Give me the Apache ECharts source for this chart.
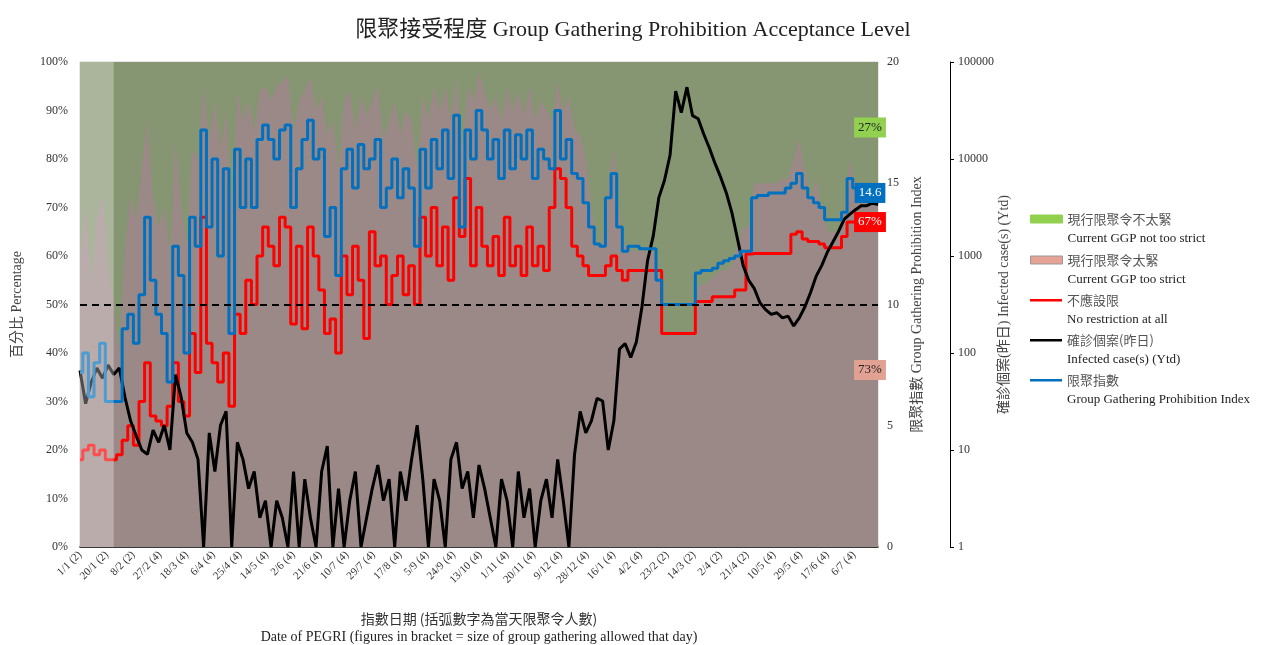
<!DOCTYPE html>
<html><head><meta charset="utf-8">
<script src="https://cdn.jsdelivr.net/npm/echarts@6.0.0/dist/echarts.min.js"></script>
<style>html,body{margin:0;padding:0;background:#fff}#c{width:1266px;height:645px}</style>
</head><body><div id="c"></div>
<script>
// ---------- text ----------
const titleText = '限聚接受程度 Group Gathering Prohibition Acceptance Level';
const xNameZh = '指數日期 (括弧數字為當天限聚令人數)';
const xNameEn = 'Date of PEGRI (figures in bracket = size of group gathering allowed that day)';
const yLeftName = '百分比 Percentage';
const yIndexName = '限聚指數 Group Gathering Prohibition Index';
const yCasesName = '確診個案(昨日) Infected case(s) (Ytd)';
const seriesZh = ['現行限聚令不太緊', '現行限聚令太緊', '不應設限', '確診個案(昨日)', '限聚指數'];
const seriesEn = ['Current GGP not too strict', 'Current GGP too strict', 'No restriction at all', 'Infected case(s) (Ytd)', 'Group Gathering Prohibition Index'];

// ---------- x axis (days since 1/1) ----------
const xTickLabels = ['1/1 (2)','20/1 (2)','8/2 (2)','27/2 (4)','18/3 (4)','6/4 (4)','25/4 (4)','14/5 (4)','2/6 (4)','21/6 (4)','10/7 (4)','29/7 (4)','17/8 (4)','5/9 (4)','24/9 (4)','13/10 (4)','1/11 (4)','20/11 (4)','9/12 (4)','28/12 (4)','16/1 (4)','4/2 (4)','23/2 (2)','14/3 (2)','2/4 (2)','21/4 (2)','10/5 (4)','29/5 (4)','17/6 (4)','6/7 (4)'];
const tickStepDays = 19;
const axisLastDay = 568;
const sampleStepDays = 4;          // one reading every 4 days
const overlayDays = [0, 24];       // shaded first period

// ---------- series values ----------
// 現行限聚令太緊 (% too strict)
const tooStrictPct = [
 60,70,55,68,72,58,50,40,62,72,
 68,78,88,72,66,70,60,84,70,62,
 82,80,95,84,92,82,90,70,94,88,
 92,86,94,95,92,95,96,97,86,92,
 94,97,90,93,85,88,78,92,94,86,
 93,89,92,95,84,88,92,85,90,88,
 78,93,88,95,90,95,88,97,82,95,
 92,98,94,90,93,88,95,90,94,89,
 95,88,92,90,88,96,90,93,86,85,
 80,70,63,62,75,82,68,62,61,61,
 61,61,61,57,44,44,44,44,44,44,
 54,54,55,56,57,57,58,62,66,66,
 75,75,75,75,75,76,76,80,84,78,
 72,76,70,65,65,65,70,80,74,75,
 73,73,73];
// 現行限聚令不太緊 (% not too strict)
const notStrictPct = [
 40,30,45,32,28,42,50,60,38,28,
 32,22,12,28,34,30,40,16,30,38,
 18,20,5,16,8,18,10,30,6,12,
 8,14,6,5,8,5,4,3,14,8,
 6,3,10,7,15,12,22,8,6,14,
 7,11,8,5,16,12,8,15,10,12,
 22,7,12,5,10,5,12,3,18,5,
 8,2,6,10,7,12,5,10,6,11,
 5,12,8,10,12,4,10,7,14,15,
 20,30,37,38,25,18,32,38,39,39,
 39,39,39,43,56,56,56,56,56,56,
 46,46,45,44,43,43,42,38,34,34,
 25,25,25,25,25,24,24,20,16,22,
 28,24,30,35,35,35,30,20,26,25,
 27,27,27];
// 不應設限 (%)
const noRestrictPct = [
 18,20,21,19,20,18,18,19,22,25,
 21,30,38,27,26,25,29,38,30,27,
 44,36,68,42,38,34,40,29,48,44,
 55,50,60,66,62,58,68,66,46,62,
 45,66,60,53,44,47,40,60,52,62,
 55,43,65,58,60,50,56,60,52,58,
 50,68,60,70,58,66,55,72,64,76,
 58,70,62,58,64,56,68,58,62,56,
 66,58,62,57,70,78,76,70,62,60,
 58,56,56,56,58,60,57,55,57,57,
 57,57,57,57,44,44,44,44,44,44,
 50.6,50.6,50.6,51.6,51.6,51.6,51.6,53,53,60.4,
 60.5,60.5,60.5,60.5,60.5,60.5,60.5,64.5,65,63.5,
 63,63,62.5,61.7,61.7,61.7,64,67,67,66.5,
 67,67,67];
// 確診個案(昨日) (cases, log axis)
const casesYtd = [
 66,30,50,70,55,75,60,70,35,20,
 14,10,9,16,12,18,10,60,35,15,
 12,8,1,15,6,18,25,1,12,8,
 4,6,2,3,1,3,2,1,6,1,
 5,2,1,6,11,1,4,1,3,6,
 1,2,4,7,3,5,1,6,3,8,
 18,5,1,5,3,1,8,12,4,6,
 2,7,4,2,1,5,3,1,6,2,
 4,1,3,5,2,8,3,1,9,25,
 15,20,34,32,10,20,110,125,90,130,
 300,900,1600,4000,6000,11000,50000,30000,55000,28000,
 26000,18000,13000,9000,6500,4500,2800,1500,800,560,
 460,330,280,250,260,230,240,190,230,300,
 420,620,800,1100,1400,1800,2400,2700,3000,3300,
 3300,3500,3400];
// 限聚指數 (index 0-20)
const ggpIndex = [
 7.2,8,6.2,7.6,8.4,6,6,6,9,9.6,
 8.4,10.4,13.6,11,9.6,8.8,6.8,12.4,11.2,8,
 13.6,12.4,17.2,13.2,16,12,15.6,8.8,16.4,14,
 16,14,16.8,17.4,16.8,16,17.2,17.4,14,15.6,
 16.8,17.6,16,16.4,12.8,14,11.2,15.6,16.4,14.8,
 16.6,15.6,16,16.8,14,14.8,16,14.4,15.6,14.8,
 12.4,16.4,14.8,16.8,15.6,17.2,15.2,17.8,13.2,17.2,
 16,18,17.2,16,16.8,15.2,17.2,15.6,17,16,
 17.2,15.2,16.4,16,15.6,18,16,16.8,15.4,15.2,
 14.2,13.2,12.5,12.4,14.4,15.4,13.2,12.2,12.4,12.4,
 12.3,12.3,12.3,11,10,10,10,10,10,10,
 11.3,11.4,11.4,11.5,11.7,11.8,11.9,12,12.2,12.2,
 14.4,14.5,14.5,14.6,14.6,14.6,14.8,15,15.4,14.8,
 14.4,14.2,14,13.5,13.5,13.5,13.8,15.2,14.8,14.7,
 14.7,14.6,14.6];
const thresholdPct = 50;

// ---------- build ----------
const SERIF = "'Liberation Serif','Noto Sans CJK TC',serif";
const CJK = "'Noto Sans CJK TC','Liberation Serif',sans-serif";
const days = tooStrictPct.map((_, i) => i * sampleStepDays);
const lastDay = days[days.length - 1];
const pair = arr => arr.map((v, i) => [days[i], v]);
// top of the 100% stack = too strict + not too strict
const stackTop = tooStrictPct.map((v, i) => v + notStrictPct[i]);
const lastToo = tooStrictPct[tooStrictPct.length - 1];
const lastNot = notStrictPct[notStrictPct.length - 1];
const lastRed = noRestrictPct[noRestrictPct.length - 1];
const lastIdx = ggpIndex[ggpIndex.length - 1];

function endTag(y, text, bg, fg) {
  return {
    symbol: 'rect', symbolSize: 1, silent: true, itemStyle: {color: 'rgba(0,0,0,0)'},
    data: [{coord: [lastDay, y], value: 0}],
    label: {show: true, position: 'inside', offset: [-8, 0], formatter: () => text, backgroundColor: bg, color: fg,
      padding: [4, 4, 3, 4], fontSize: 13, fontFamily: SERIF}
  };
}

const legendColors = ['#92D050', '#E6A395', '#FF0000', '#000000', '#0070C0'];
const legendTops = [208, 249, 289, 329, 369];
const lineIcon = 'path://M0 0H0.2V0.2H0Z M0 3H32V5.6H0Z M31.8 7.8H32V8H31.8Z';
const legends = seriesZh.map((nm, i) => ({
  left: 1025, top: legendTops[i], orient: 'vertical', itemWidth: 32, itemHeight: 8,
  selectedMode: false,
  data: [{name: nm, icon: i < 2 ? 'rect' : lineIcon,
    itemStyle: {color: legendColors[i], borderColor: i === 1 ? '#9a9a9a' : legendColors[i], borderWidth: i < 2 ? 1 : 0}}],
  formatter: n => `{a|${n}}\n{b|${seriesEn[seriesZh.indexOf(n)]}}`,
  textStyle: {padding: [20, 0, 0, 0], rich: {
    a: {fontSize: 13, lineHeight: 20, color: '#555', fontFamily: CJK},
    b: {fontSize: 13, lineHeight: 19, color: '#222', fontFamily: SERIF}
  }}
}));

const chart = echarts.init(document.getElementById('c'), null, {renderer: 'canvas'});
chart.setOption({
  animation: false,
  backgroundColor: '#fff',
  title: {text: titleText, left: 'center', top: 14,
    textStyle: {fontSize: 22, fontWeight: 'normal', color: '#222', fontFamily: SERIF}},
  legend: legends,
  grid: {left: 80, right: 388, top: 62, bottom: 98, show: true, borderColor: '#cfcfcf', borderWidth: 1,
    containLabel: false, outerBoundsMode: 'none'},
  xAxis: {
    type: 'value', min: 0, max: axisLastDay, interval: tickStepDays,
    axisLine: {show: true, onZero: false, lineStyle: {color: '#000', width: 1.5}},
    axisTick: {show: false}, splitLine: {show: false},
    axisLabel: {rotate: 45, margin: 6, fontSize: 11, color: '#333', fontFamily: SERIF, showMaxLabel: false,
      formatter: v => (v % tickStepDays === 0 ? (xTickLabels[v / tickStepDays] || '') : '')},
    name: `{a|${xNameZh}}\n{b|${xNameEn}}`, nameLocation: 'middle', nameGap: 62, nameMoveOverlap: false,
    nameTextStyle: {rich: {
      a: {fontSize: 14, lineHeight: 19, color: '#333', fontFamily: CJK, align: 'center'},
      b: {fontSize: 14, lineHeight: 18, color: '#222', fontFamily: SERIF, align: 'center'}
    }}
  },
  yAxis: [
    {type: 'value', min: 0, max: 100, interval: 10, position: 'left',
     axisLine: {show: false}, axisTick: {show: false}, splitLine: {show: false},
     axisLabel: {formatter: '{value}%', margin: 12, fontSize: 12, color: '#333', fontFamily: SERIF},
     name: yLeftName, nameLocation: 'middle', nameRotate: 90, nameGap: 56, nameMoveOverlap: false,
     nameTextStyle: {fontSize: 14, color: '#444', fontFamily: SERIF}},
    {type: 'value', min: 0, max: 20, interval: 5, position: 'right',
     axisLine: {show: false}, axisTick: {show: false}, splitLine: {show: false},
     axisLabel: {margin: 9, fontSize: 12, color: '#333', fontFamily: SERIF},
     name: yIndexName, nameLocation: 'middle', nameRotate: 90, nameGap: 32, nameMoveOverlap: false,
     nameTextStyle: {fontSize: 14, color: '#444', fontFamily: SERIF}},
    {type: 'log', logBase: 10, min: 1, max: 100000, position: 'right', offset: 72,
     axisLine: {show: true, lineStyle: {color: '#000', width: 1}},
     axisTick: {show: true, length: 4, lineStyle: {color: '#000'}}, splitLine: {show: false},
     axisLabel: {margin: 8, fontSize: 12, color: '#333', fontFamily: SERIF, formatter: v => String(Math.round(v))},
     name: yCasesName, nameLocation: 'middle', nameRotate: 90, nameGap: 47, nameMoveOverlap: false,
     nameTextStyle: {fontSize: 14, color: '#444', fontFamily: SERIF}}
  ],
  series: [
    {name: seriesZh[0], type: 'line', data: pair(stackTop), symbol: 'none',
     color: '#92D050', lineStyle: {width: 0, opacity: 0}, areaStyle: {color: '#869672', opacity: 1}, z: 1,
     markPoint: endTag(lastToo + lastNot / 2, lastNot + '%', '#92D050', '#222')},
    {name: seriesZh[1], type: 'line', data: pair(tooStrictPct), symbol: 'none',
     color: '#E6A395', lineStyle: {width: 0, opacity: 0}, areaStyle: {color: '#9B8987', opacity: 1}, z: 1,
     markPoint: endTag(lastToo / 2, lastToo + '%', '#E2A293', '#222')},
    {name: seriesZh[2], type: 'line', step: 'middle', data: pair(noRestrictPct), symbol: 'none', color: '#FF0000',
     lineStyle: {width: 3, color: '#FF0000'}, z: 2,
     markLine: {silent: true, symbol: 'none', label: {show: false},
       lineStyle: {color: '#000', type: [7, 5], width: 2}, data: [{yAxis: thresholdPct}]},
     markPoint: endTag(lastRed, lastRed + '%', '#FF0000', '#fff')},
    {name: seriesZh[3], type: 'line', yAxisIndex: 2, data: pair(casesYtd), symbol: 'none', color: '#000',
     lineStyle: {width: 3, color: '#000'}, z: 2},
    {name: seriesZh[4], type: 'line', step: 'middle', yAxisIndex: 1, data: pair(ggpIndex), symbol: 'none', color: '#0070C0',
     lineStyle: {width: 3, color: '#0070C0'}, z: 2,
     markPoint: endTag(lastIdx, String(lastIdx), '#0070C0', '#fff')},
    {name: 'overlay', type: 'line', data: overlayDays.map(d => [d, 100]), symbol: 'none', silent: true,
     lineStyle: {width: 0, opacity: 0}, areaStyle: {color: 'rgba(255,255,255,0.3)', opacity: 1}, z: 3}
  ]
});
</script></body></html>
